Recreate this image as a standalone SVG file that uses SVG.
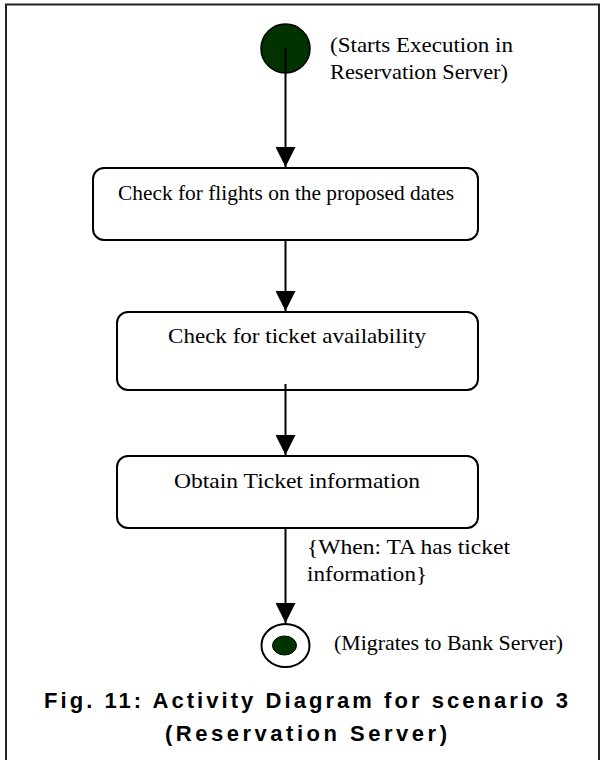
<svg xmlns="http://www.w3.org/2000/svg" width="603" height="760" viewBox="0 0 603 760">
<defs>
<style>
.t{font-family:"Liberation Serif","Times New Roman",serif;font-size:21px;fill:#000}
.cap{font-family:"Liberation Sans",Arial,sans-serif;font-size:22px;font-weight:bold;fill:#000}
.box{fill:#fff;stroke:#000;stroke-width:2}
.edge{stroke:#000;stroke-width:2;fill:none}
</style>
<marker id="arr" markerWidth="22" markerHeight="20" refX="21" refY="10.5" orient="auto" markerUnits="userSpaceOnUse" viewBox="0 0 22 21">
<path d="M0,0 L21,10.5 L0,21 Z" fill="#000"/>
</marker>
</defs>
<rect x="0" y="0" width="603" height="760" fill="#fff"/>
<rect x="6" y="4.5" width="593" height="770" fill="none" stroke="#222" stroke-width="2"/>
<g id="start">
<circle cx="285.5" cy="48.5" r="24.5" fill="#003300" stroke="#000" stroke-width="1.5"/>
<text class="t" x="330" y="52" textLength="183" lengthAdjust="spacingAndGlyphs">(Starts Execution in</text>
<text class="t" x="330" y="79" textLength="178" lengthAdjust="spacingAndGlyphs">Reservation Server)</text>
</g>
<g id="node1">
<rect class="box" x="93" y="168" width="385" height="72" rx="11"/>
<text class="t" x="118" y="200" textLength="336" lengthAdjust="spacingAndGlyphs">Check for flights on the proposed dates</text>
</g>
<g id="node2">
<rect class="box" x="117" y="312" width="361" height="78" rx="11"/>
<text class="t" x="168" y="343" textLength="258" lengthAdjust="spacingAndGlyphs">Check for ticket availability</text>
</g>
<g id="node3">
<rect class="box" x="117" y="456" width="361" height="72" rx="11"/>
<text class="t" x="174" y="488" textLength="246" lengthAdjust="spacingAndGlyphs">Obtain Ticket information</text>
</g>
<g id="end">
<ellipse cx="285.5" cy="645.5" rx="24" ry="21.5" fill="#fff" stroke="#000" stroke-width="2"/>
<ellipse cx="284.5" cy="645.5" rx="12" ry="9.5" fill="#003300" stroke="#000" stroke-width="1"/>
<text class="t" x="334" y="650" textLength="229" lengthAdjust="spacingAndGlyphs">(Migrates to Bank Server)</text>
</g>
<g id="connectors">
<line class="edge" x1="285.5" y1="48" x2="285.5" y2="167" marker-end="url(#arr)"/>
<line class="edge" x1="285.5" y1="240" x2="285.5" y2="311" marker-end="url(#arr)"/>
<line class="edge" x1="285.5" y1="384" x2="285.5" y2="455" marker-end="url(#arr)"/>
<line class="edge" x1="285.5" y1="528" x2="285.5" y2="623" marker-end="url(#arr)"/>
<text class="t" x="307" y="554" textLength="203" lengthAdjust="spacingAndGlyphs">{When: TA has ticket</text>
<text class="t" x="307" y="581" textLength="120" lengthAdjust="spacingAndGlyphs">information}</text>
</g>
<g id="caption">
<text class="cap" x="44" y="708" textLength="524" lengthAdjust="spacing">Fig. 11: Activity Diagram for scenario 3</text>
<text class="cap" x="165" y="741" textLength="282" lengthAdjust="spacing">(Reservation Server)</text>
</g>
</svg>
